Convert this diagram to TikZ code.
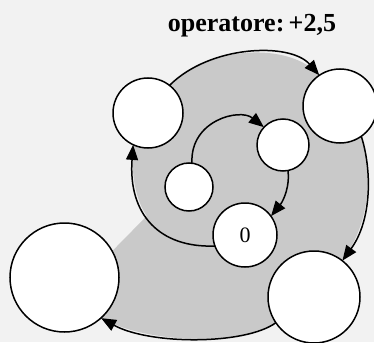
\documentclass[tikz,border=0pt]{standalone}
\usepackage{fontspec}
\setmainfont{Liberation Serif}
\usetikzlibrary{arrows.meta,calc}
\begin{document}
\begin{tikzpicture}[x=1pt,y=-1pt,
  ring/.style={circle,draw=black,fill=white,line width=1.5pt,inner sep=0pt},
  arr/.style={line width=1.5pt,-{Triangle[length=15pt,width=12pt]}},
  bandfill/.style={fill=black!21}]
\useasboundingbox (0,0) rectangle (374,342);
\fill[black!5] (0,0) rectangle (374,342);
% circle positions (node centres)
\coordinate (ctl) at (148,113);
\coordinate (ctr) at (340,106);
\coordinate (cir) at (283,145);
\coordinate (cil) at (189,187);
\coordinate (cz)  at (245,235);
\coordinate (cbl) at (64.5,277.5);
\coordinate (cbr) at (314,297);
% invisible copies to get anchors before drawing
\node[circle,inner sep=0pt,minimum size=70pt] (tl) at (ctl) {};
\node[circle,inner sep=0pt,minimum size=74pt] (tr) at (ctr) {};
\node[circle,inner sep=0pt,minimum size=52pt] (ir) at (cir) {};
\node[circle,inner sep=0pt,minimum size=48pt] (il) at (cil) {};
\node[circle,inner sep=0pt,minimum size=64pt] (z)  at (cz)  {};
\node[circle,inner sep=0pt,minimum size=109pt] (bl) at (cbl) {};
\node[circle,inner sep=0pt,minimum size=92pt] (br) at (cbr) {};
% inner curve control points and split
\coordinate (q0) at (z.200);
\coordinate (q1) at (160,248);
\coordinate (q2) at (128,215);
\coordinate (q3) at (tl.245);
\def\tt{0.56}
\coordinate (sa) at ($(q0)!\tt!(q1)$);
\coordinate (sb) at ($(q1)!\tt!(q2)$);
\coordinate (sc) at ($(q2)!\tt!(q3)$);
\coordinate (sd) at ($(sa)!\tt!(sb)$);
\coordinate (se) at ($(sb)!\tt!(sc)$);
\coordinate (sp) at ($(sd)!\tt!(se)$);
% gray band
\fill[bandfill] (tl.52) .. controls (210,45) and (290,42) .. (tr.124)
  -- (tr.-55) .. controls (372,170) and (372,220) .. (br.52)
  -- (br.214) .. controls (245,345) and (150,345) .. (bl.-48)
  -- (bl.29) -- (sp) .. controls (se) and (sc) .. (q3) -- cycle;
% connectors
\draw[arr] (tl.52) .. controls (210,45) and (290,42) .. (tr.124);
\draw[arr] (tr.-55) .. controls (372,170) and (372,220) .. (br.52);
\draw[arr] (br.214) .. controls (245,345) and (150,345) .. (bl.-48);
\draw[arr] (q0) .. controls (q1) and (q2) .. (q3);
\draw[arr] (il.83) .. controls (190,120) and (240,108) .. (ir.137);
\draw[arr] (ir.-79) .. controls (290,185) and (284,200) .. (z.36);
% visible circles
\node[ring,minimum size=70pt] at (ctl) {};
\node[ring,minimum size=74pt] at (ctr) {};
\node[ring,minimum size=52pt] at (cir) {};
\node[ring,minimum size=48pt] at (cil) {};
\node[ring,minimum size=64pt,font=\fontsize{22}{22}\selectfont] (zl) at (cz) {0};
\node[ring,minimum size=109pt] at (cbl) {};
\node[ring,minimum size=92pt] at (cbr) {};
% title
\node[anchor=base,font=\fontsize{26}{26}\selectfont\bfseries] (title) at (252,32) {operatore:\,+2,5};
\end{tikzpicture}
\end{document}
